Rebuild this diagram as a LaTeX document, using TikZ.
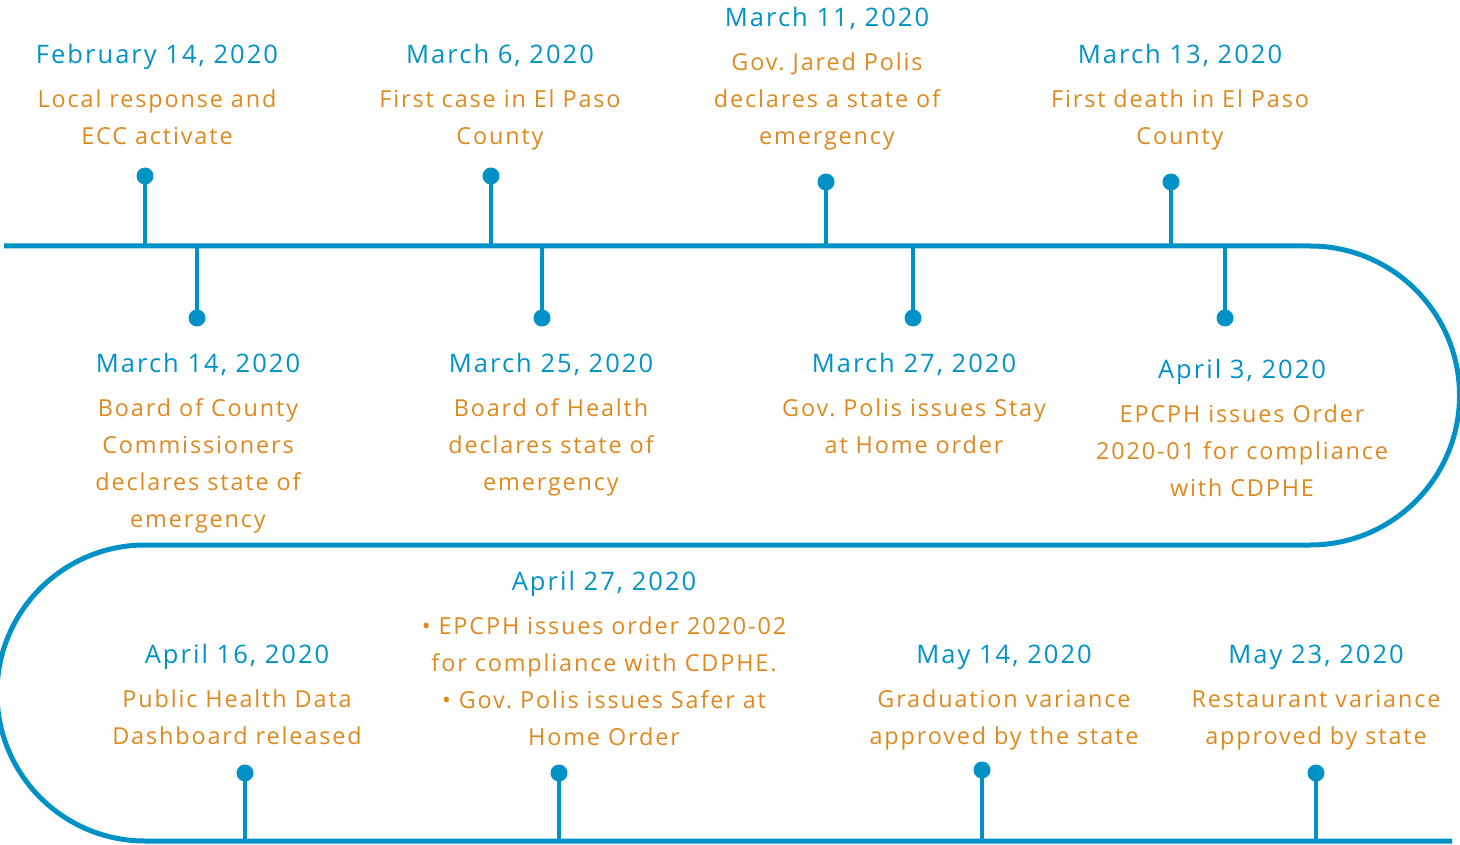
\documentclass[tikz,border=0pt]{standalone}
\usepackage{fontspec}
\setmainfont[LetterSpace=8]{Open Sans}
\definecolor{tlblue}{RGB}{0,146,199}
\definecolor{tlorange}{RGB}{222,137,30}
\tikzset{
  track/.style={line width=5pt, draw=tlblue},
  stem/.style={line width=4.5pt, draw=tlblue},
  dotnode/.style={circle, fill=tlblue, inner sep=0pt, minimum size=17pt},
  datetext/.style={text=tlblue, font=\fontsize{25.5}{30}\selectfont\frenchspacing, inner sep=0pt, anchor=base},
  desctext/.style={text=tlorange, font=\fontsize{23.4}{28}\selectfont\frenchspacing, inner sep=0pt, anchor=base},
}
% \tlevent{id}{x}{date centre y}{date}{{line1},{line2},...}
\newcommand{\tlevent}[5]{%
  \node[datetext] (#1date) at (#2,#3+10) {#4};
  \foreach \ln [count=\i] in {#5} {
    \node[desctext] (#1line\i) at (#2,#3+9+8+37*\i) {\ln};
  }%
}
\begin{document}
\frenchspacing
\begin{tikzpicture}[x=1pt,y=-1pt]
\useasboundingbox (0,0) rectangle (1460,845);
% track
\draw[track] (4,246) -- (1310,246)
  arc[start angle=-90, end angle=90, radius=149.5] -- (145,545)
  arc[start angle=-90, end angle=-270, radius=148] -- (1452,841);
% stems
\foreach \n/\x/\yd/\yb in {a/145/176/246, b/491/176/246, c/826/182/246, d/1171/182/246,
  e/197/318/246, f/542/318/246, g/913/318/246, h/1225/318/246,
  i/245/773/841, j/559/773/841, k/982/770/841, l/1316/773/841} {
  \node[dotnode] (dot\n) at (\x,\yd) {};
  \coordinate (base\n) at (\x,\yb);
  \draw[stem] (dot\n.center) -- (base\n);
}
% texts
\tlevent{a}{157}{54}{February 14, 2020}{{Local response and},{ECC activate}}
\tlevent{b}{500}{54}{March 6, 2020}{{First case in El Paso},{County}}
\tlevent{c}{827}{17}{March 11, 2020}{{Gov. Jared Polis},{declares a state of},{emergency}}
\tlevent{d}{1180}{54}{March 13, 2020}{{First death in El Paso},{County}}
\tlevent{e}{198}{362}{March 14, 2020}{{Board of County},{Commissioners},{declares state of},{emergency}}
\tlevent{f}{551}{362}{March 25, 2020}{{Board of Health},{declares state of},{emergency}}
\tlevent{g}{914}{362}{March 27, 2020}{{Gov. Polis issues Stay},{at Home order}}
\tlevent{h}{1242}{368}{April 3, 2020}{{EPCPH issues Order},{2020-01 for compliance},{with CDPHE}}
\tlevent{i}{237}{653}{April 16, 2020}{{Public Health Data},{Dashboard released}}
\tlevent{j}{604}{580}{April 27, 2020}{{• EPCPH issues order 2020-02},{for compliance with CDPHE.},{• Gov. Polis issues Safer at},{Home Order}}
\tlevent{k}{1004}{653}{May 14, 2020}{{Graduation variance},{approved by the state}}
\tlevent{l}{1316}{653}{May 23, 2020}{{Restaurant variance},{approved by state}}
\end{tikzpicture}
\end{document}
